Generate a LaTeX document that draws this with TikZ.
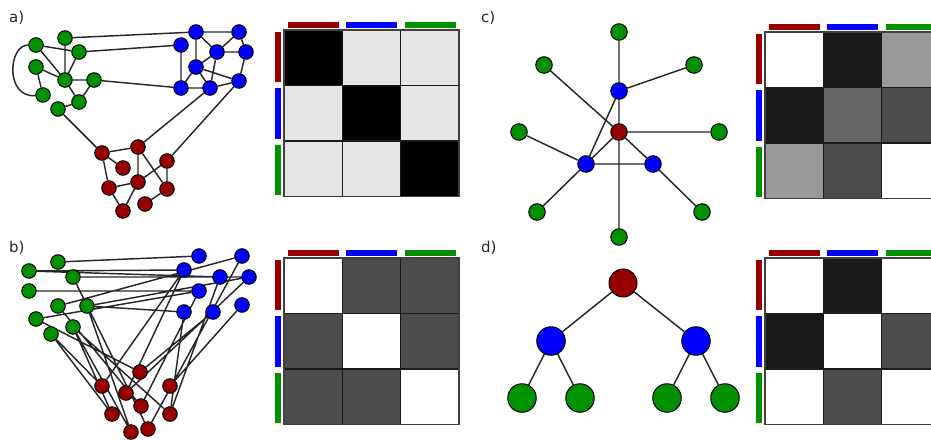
\documentclass[tikz,border=0pt]{standalone}
\usepackage{fontspec}
\setmainfont{DejaVu Sans}
\usetikzlibrary{backgrounds}
\definecolor{cgreen}{RGB}{0,145,0}
\definecolor{cred}{RGB}{150,0,0}
\definecolor{cblue}{RGB}{0,0,255}
\newcommand\mymat[9]{%
  \fill[#1] (0,0) rectangle (58.3,55.5);
  \fill[#2] (58.3,0) rectangle (116.6,55.5);
  \fill[#3] (116.6,0) rectangle (175,55.5);
  \fill[#4] (0,55.5) rectangle (58.3,111);
  \fill[#5] (58.3,55.5) rectangle (116.6,111);
  \fill[#6] (116.6,55.5) rectangle (175,111);
  \fill[#7] (0,111) rectangle (58.3,166.5);
  \fill[#8] (58.3,111) rectangle (116.6,166.5);
  \fill[#9] (116.6,111) rectangle (175,166.5);
  \draw[cellline] (58.3,0) -- (58.3,166.5) (116.6,0) -- (116.6,166.5)
                  (0,55.5) -- (175,55.5) (0,111) -- (175,111);
  \draw[matborder] (0,0) rectangle (175,166.5);
  \fill[cred]   (4,-8) rectangle (55,-2.5);
  \fill[cblue]  (62.3,-8) rectangle (113.3,-2.5);
  \fill[cgreen] (120.6,-8) rectangle (171.6,-2.5);
  \fill[cred]   (-9.5,1.5) rectangle (-3.5,51.5);
  \fill[cblue]  (-9.5,57.5) rectangle (-3.5,108.5);
  \fill[cgreen] (-9.5,114.5) rectangle (-3.5,164.5);
}
\tikzset{
  vtx/.style={circle, draw=black, line width=1pt, inner sep=0pt, minimum size=14.5pt},
  gn/.style={vtx, fill=cgreen},
  bn/.style={vtx, fill=cblue},
  rn/.style={vtx, fill=cred},
  gc/.style={gn, minimum size=16.5pt},
  bc/.style={bn, minimum size=16.5pt},
  rc/.style={rn, minimum size=16.5pt},
  gd/.style={gn, minimum size=28.5pt},
  bd/.style={bn, minimum size=28.5pt},
  rd/.style={rn, minimum size=28pt},
  edge/.style={draw=black!85, line width=1.45pt},
  cellline/.style={draw=black!90, line width=1.4pt},
  matborder/.style={draw=black!75, line width=1.7pt},
  lbl/.style={anchor=base west, font=\fontsize{15}{18}\selectfont, text=black!85, inner sep=0pt},
}
\begin{document}
\begin{tikzpicture}[x=1pt,y=-1pt]
\clip (0,0) rectangle (931,439);

% labels
\node[lbl] (la) at (9,23) {a)};
\node[lbl] (lb) at (9,252) {b)};
\node[lbl] (lc) at (481,23) {c)};
\node[lbl] (ld) at (481,252) {d)};

% matrices
\begin{scope}[shift={(284,30)}]
  \mymat{black}{black!10}{black!10}{black!10}{black}{black!10}{black!10}{black!10}{black}
\end{scope}
\begin{scope}[shift={(284,258)}]
  \mymat{white}{black!70}{black!70}{black!70}{white}{black!70}{black!70}{black!70}{white}
\end{scope}
\begin{scope}[shift={(765,32)}]
  \mymat{white}{black!90}{black!40}{black!90}{black!60}{black!70}{black!40}{black!70}{white}
\end{scope}
\begin{scope}[shift={(765,258)}]
  \mymat{white}{black!90}{white}{black!90}{white}{black!70}{white}{black!70}{white}
\end{scope}

% ---------- panel a ----------
\node[gn] (aG1) at (65,38) {};
\node[gn] (aG2) at (36,45) {};
\node[gn] (aG3) at (79,52) {};
\node[gn] (aG4) at (36,67) {};
\node[gn] (aG5) at (65,80) {};
\node[gn] (aG6) at (94,80) {};
\node[gn] (aG7) at (43,95) {};
\node[gn] (aG8) at (79,102) {};
\node[gn] (aG9) at (58,109) {};
\node[bn] (aB1) at (196,32) {};
\node[bn] (aB2) at (239,32) {};
\node[bn] (aB3) at (181,45) {};
\node[bn] (aB4) at (217,52) {};
\node[bn] (aB5) at (246,52) {};
\node[bn] (aB6) at (196,67) {};
\node[bn] (aB7) at (239,81) {};
\node[bn] (aB8) at (181,88) {};
\node[bn] (aB9) at (210,88) {};
\node[rn] (aR1) at (102,153) {};
\node[rn] (aR2) at (138,147) {};
\node[rn] (aR3) at (167,161) {};
\node[rn] (aR4) at (123,168) {};
\node[rn] (aR5) at (109,188) {};
\node[rn] (aR6) at (138,182) {};
\node[rn] (aR7) at (167,189) {};
\node[rn] (aR8) at (145,204) {};
\node[rn] (aR9) at (123,211) {};

% ---------- panel b ----------
\node[gn] (bG1) at (58,262) {};
\node[gn] (bG2) at (29,271) {};
\node[gn] (bG3) at (73,277) {};
\node[gn] (bG4) at (29,291) {};
\node[gn] (bG5) at (58,306) {};
\node[gn] (bG6) at (87,306) {};
\node[gn] (bG7) at (36,319) {};
\node[gn] (bG8) at (51,334) {};
\node[gn] (bG9) at (73,327) {};
\node[bn] (bB1) at (199,256) {};
\node[bn] (bB2) at (242,256) {};
\node[bn] (bB3) at (184,270) {};
\node[bn] (bB4) at (220,277) {};
\node[bn] (bB5) at (249,277) {};
\node[bn] (bB6) at (199,291) {};
\node[bn] (bB7) at (184,312) {};
\node[bn] (bB8) at (213,312) {};
\node[bn] (bB9) at (242,305) {};
\node[rn] (bR1) at (140,372) {};
\node[rn] (bR2) at (102,386) {};
\node[rn] (bR3) at (170,386) {};
\node[rn] (bR4) at (126,393) {};
\node[rn] (bR5) at (141,406) {};
\node[rn] (bR6) at (112,414) {};
\node[rn] (bR7) at (170,414) {};
\node[rn] (bR8) at (148,429) {};
\node[rn] (bR9) at (131,432) {};

% ---------- panel c ----------
\node[gc] (cT)   at (619,32) {};
\node[gc] (cUL)  at (544,65) {};
\node[gc] (cUR)  at (694,65) {};
\node[bc] (cB1)  at (619,91) {};
\node[gc] (cL)   at (519,132) {};
\node[rc] (cR)   at (619,132) {};
\node[gc] (cRt)  at (719,132) {};
\node[bc] (cB2)  at (586,164) {};
\node[bc] (cB3)  at (653,164) {};
\node[gc] (cLL)  at (537,212) {};
\node[gc] (cLR)  at (702,212) {};
\node[gc] (cBot) at (619,237) {};

% ---------- panel d ----------
\node[rd] (dR)  at (623,283) {};
\node[bd] (dB1) at (551,341) {};
\node[bd] (dB2) at (696,341) {};
\node[gd] (dG1) at (522,398) {};
\node[gd] (dG2) at (580,398) {};
\node[gd] (dG3) at (667,398) {};
\node[gd] (dG4) at (725,398) {};

\begin{pgfonlayer}{background}
% panel a edges
\path[edge] (aG1) -- (aG5) (aG2) -- (aG3) (aG2) -- (aG5) (aG3) -- (aG5)
  (aG4) -- (aG5) (aG4) -- (aG7) (aG5) -- (aG6) (aG5) -- (aG8)
  (aG6) -- (aG8) (aG8) -- (aG9);
\path[edge] (aG2) .. controls (8,45) and (5,98) .. (aG7);
\path[edge] (aB1) -- (aB2) (aB1) -- (aB4) (aB2) -- (aB4) (aB2) -- (aB5)
  (aB1) -- (aB6) (aB3) -- (aB8) (aB4) -- (aB5) (aB4) -- (aB6)
  (aB4) -- (aB9) (aB6) -- (aB7) (aB6) -- (aB8) (aB6) -- (aB9)
  (aB5) -- (aB7) (aB8) -- (aB9) (aB9) -- (aB7);
\path[edge] (aR1) -- (aR2) (aR1) -- (aR4) (aR1) -- (aR5) (aR2) -- (aR6)
  (aR2) -- (aR7) (aR3) -- (aR7) (aR3) -- (aR6) (aR5) -- (aR6)
  (aR5) -- (aR9) (aR6) -- (aR9) (aR7) -- (aR8);
\path[edge] (aG1) -- (aB1) (aG3) -- (aB3) (aG6) -- (aB8) (aG9) -- (aR1)
  (aB9) -- (aR2) (aB7) -- (aR3);
% panel b edges
\path[edge] (bG1) -- (bB1) (bG2) -- (bB3) (bG2) -- (bB4) (bG3) -- (bB5)
  (bG4) -- (bB6) (bG5) -- (bB2) (bG6) -- (bB5) (bG6) -- (bB7) (bG7) -- (bB6);
\path[edge] (bB3) -- (bR2) (bB3) -- (bR4) (bB6) -- (bR5) (bB4) -- (bR7)
  (bB9) -- (bR3) (bB8) -- (bR1) (bB7) -- (bR7) (bB2) -- (bR8) (bB5) -- (bR4);
\path[edge] (bG3) -- (bR8) (bG6) -- (bR9) (bG8) -- (bR6) (bG7) -- (bR1)
  (bG9) -- (bR9) (bG9) -- (bR7) (bG5) -- (bR5) (bG8) -- (bR2) (bG9) -- (bR6);
% panel c edges
\path[edge] (cT) -- (cB1) (cB1) -- (cR) (cR) -- (cBot) (cB1) -- (cUR)
  (cB1) -- (cB2) (cUL) -- (cR) (cR) -- (cRt) (cR) -- (cB2) (cR) -- (cB3)
  (cB2) -- (cB3) (cL) -- (cB2) (cB2) -- (cLL) (cB3) -- (cLR);
% panel d edges
\path[edge] (dR) -- (dB1) (dR) -- (dB2) (dB1) -- (dG1) (dB1) -- (dG2)
  (dB2) -- (dG3) (dB2) -- (dG4);
\end{pgfonlayer}
\end{tikzpicture}
\end{document}
